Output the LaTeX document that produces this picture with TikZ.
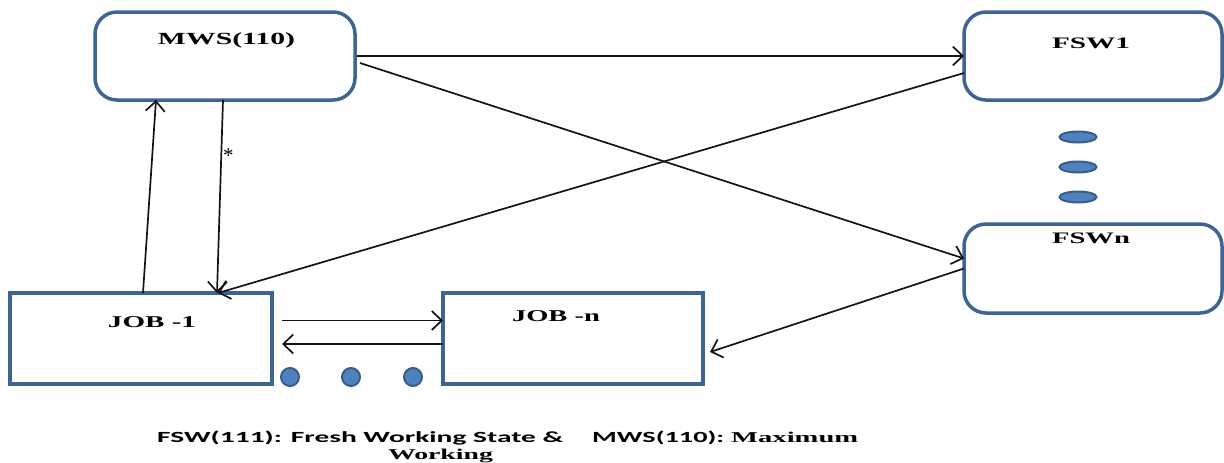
\documentclass[tikz,border=0pt]{standalone}
\usepackage{fontspec}
\usepackage{graphicx}
\setmainfont{Liberation Serif}
\newfontfamily\capsans{Carlito}
\usetikzlibrary{arrows.meta,shapes.geometric}
\definecolor{boxblue}{RGB}{62,100,148}
\definecolor{dotfill}{RGB}{79,129,189}
\definecolor{dotedge}{RGB}{56,93,138}
\definecolor{ink}{RGB}{20,20,20}
% stretch a label to a given width, keeping its height
\newcommand\wide[2]{\resizebox{#1}{\height}{#2}}
% caption fonts
\newcommand\capsf{\capsans\bfseries\fontsize{15.5}{18}\selectfont}
\newcommand\caprm{\rmfamily\bfseries\fontsize{15}{18}\selectfont}
\begin{document}
\begin{tikzpicture}[x=1pt,y=-1pt,
  state/.style={draw=boxblue,line width=3.5pt,rounded corners=22pt,inner sep=0pt,outer sep=0pt},
  job/.style={draw=boxblue,line width=3.5pt,inner sep=0pt,outer sep=0pt},
  lbl/.style={anchor=base,inner sep=0pt,font=\bfseries},
  captext/.style={anchor=base west,inner sep=0pt},
  flow/.style={draw=ink,line width=1.7pt,-{Straight Barb[length=10pt,width=19pt,line width=1.7pt]}},
  vdot/.style={ellipse,draw=dotedge,fill=dotfill,line width=2pt,minimum width=37pt,minimum height=11pt,inner sep=0pt},
  hdot/.style={circle,draw=dotedge,fill=dotfill,line width=2pt,minimum size=18pt,inner sep=0pt}]
\useasboundingbox (0,0) rectangle (1224,463);

% boxes
\node[state,minimum width=260pt,minimum height=88pt] (mws) at (225,56) {};
\node[state,minimum width=258pt,minimum height=88pt] (fsw1) at (1093,56) {};
\node[state,minimum width=258pt,minimum height=89pt] (fswn) at (1093,268.5) {};
\node[job,minimum width=262pt,minimum height=91pt] (job1) at (141,338.5) {};
\node[job,minimum width=260pt,minimum height=91pt] (jobn) at (573,338.5) {};

% box labels
\node[lbl,font=\fontsize{17}{20}\selectfont\bfseries] (tmws) at (226.5,45) {\wide{137pt}{MWS(110)}};
\node[lbl,font=\fontsize{16}{19}\selectfont\bfseries] (tfsw1) at (1091,48) {\wide{78pt}{FSW1}};
\node[lbl,font=\fontsize{16}{19}\selectfont\bfseries] (tfswn) at (1091,243) {\wide{78pt}{FSWn}};
\node[lbl,font=\fontsize{16.5}{19}\selectfont\bfseries] (tjob1) at (152,327) {\wide{88pt}{JOB -1}};
\node[lbl,font=\fontsize{16.5}{19}\selectfont\bfseries] (tjobn) at (556,321) {\wide{88pt}{JOB -n}};

% ellipsis marks
\node[vdot] (v1) at (1078,137) {};
\node[vdot] (v2) at (1078,167) {};
\node[vdot] (v3) at (1078,197) {};
\node[hdot] (h1) at (290,377) {};
\node[hdot] (h2) at (351,377) {};
\node[hdot] (h3) at (413,377) {};

% connectors
\draw[flow] ([xshift=2pt]mws.east) -- (fsw1.west);
\draw[flow] ([xshift=5pt,yshift=-7pt]mws.east) -- ([yshift=10pt]fswn.west);
\draw[flow] ([yshift=-17pt]fsw1.west) -- ([xshift=77pt]job1.north);
\draw[flow] ([xshift=-2pt]mws.south) -- node[pos=0.29,right=1pt,inner sep=0pt,font=\fontsize{21}{21}\selectfont] (star) {*} ([xshift=76pt]job1.north);
\draw[flow] ([xshift=2pt]job1.north) -- ([xshift=-69pt]mws.south);
\draw[flow] ([xshift=10pt,yshift=18pt]job1.east) -- ([yshift=18pt]jobn.west);
\draw[flow] ([yshift=-5.5pt]jobn.west) -- ([xshift=10pt,yshift=-5.5pt]job1.east);
\draw[flow] (fswn.west) -- ([xshift=7pt,yshift=-13.5pt]jobn.east);

% caption
\node[captext] (cap1) at (157,442) {\wide{406pt}{\capsf FSW(111): Fresh Working State \&}};
\node[captext] (cap2) at (592,442) {\wide{132pt}{\capsf MWS(110):}};
\node[captext] (cap3) at (731,442) {\wide{127pt}{\caprm Maximum}};
\node[anchor=base,inner sep=0pt] (cap4) at (440.5,459) {\wide{105pt}{\caprm Working}};
\end{tikzpicture}
\end{document}
